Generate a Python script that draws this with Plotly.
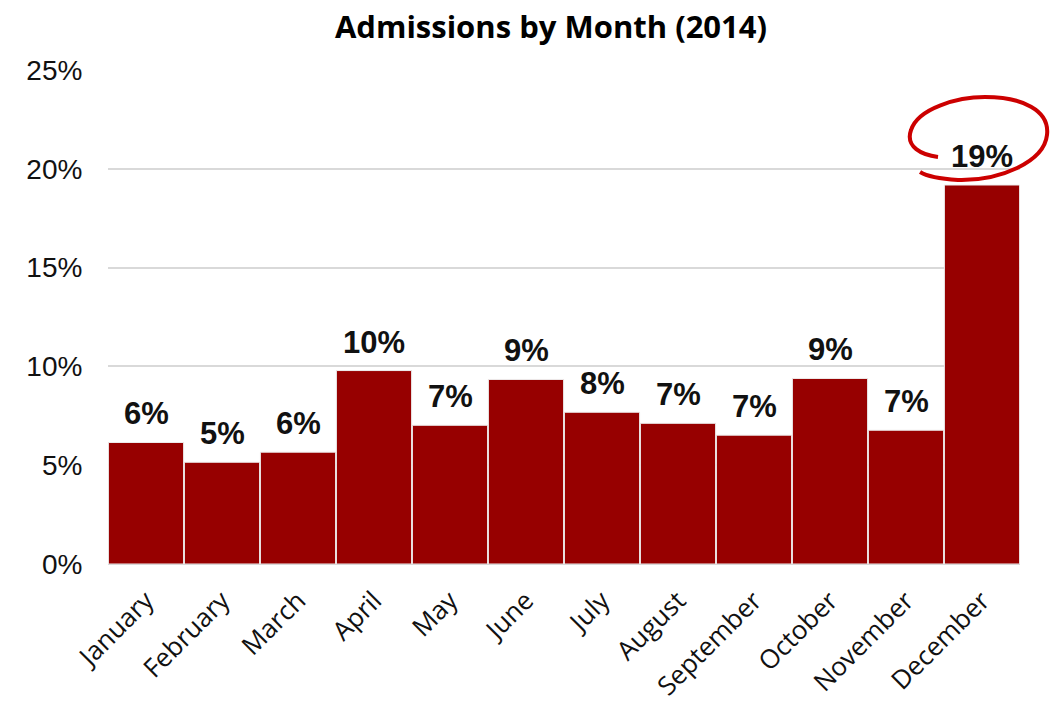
import plotly.graph_objects as go

months = ["January", "February", "March", "April", "May", "June", "July",
          "August", "September", "October", "November", "December"]
share = [0.0615, 0.0515, 0.0566, 0.0979, 0.0702, 0.0934, 0.0768,
         0.0712, 0.0652, 0.0939, 0.0677, 0.1918]
labels = ["6%", "5%", "6%", "10%", "7%", "9%", "8%", "7%", "7%", "9%", "7%", "19%"]
y_ticks = [0, 0.05, 0.10, 0.15, 0.20, 0.25]
y_tick_text = ["0%", "5%", "10%", "15%", "20%", "25%"]

# page has an 8px body margin; figure sized to fill the rest of the window
OFF = 8
W, H = 1050, 699
L, R, T, B = 100, 38, 62, 143
PW, PH = W - L - R, H - T - B

def px(x, y):
    """page pixel -> paper coords"""
    return (x - OFF - L) / PW, (H - B - (y - OFF)) / PH

fig = go.Figure(go.Bar(
    x=months, y=share,
    marker=dict(color="#970000", line=dict(color="#eeeeee", width=1)),
))

for m, v, t in zip(months, share, labels):
    fig.add_annotation(x=m, y=v, text=t, showarrow=False, yanchor="bottom",
                       yshift=9,
                       font=dict(family="Liberation Sans", size=31, color="#111111", weight="bold"))

# hand-drawn highlight ellipse around December label
pts = [("M", [(938, 157)]),
       ("C", [(922, 155), (905, 147), (911, 130)]),
       ("C", [(918, 108), (958, 97), (985, 97)]),
       ("C", [(1022, 97), (1050, 110), (1047, 135)]),
       ("C", [(1044, 162), (1000, 181), (958, 180)]),
       ("C", [(942, 179), (928, 177), (920, 172)])]
path = ""
for cmd, ps in pts:
    path += cmd + " " + ", ".join("%.4f %.4f" % px(a, b) for a, b in ps) + " "
fig.add_shape(type="path", path=path.strip(), xref="paper", yref="paper",
              line=dict(color="#cc0000", width=4))

# small cropped glyph at the bottom-right edge of the slide
tri = [(1051, 659), (1058, 667), (1058, 676), (1051, 676)]
tpath = "M " + " L ".join("%.4f %.4f" % px(a, b) for a, b in tri) + " Z"
fig.add_shape(type="path", path=tpath, xref="paper", yref="paper",
              fillcolor="#111111", line=dict(width=0))

fig.update_layout(
    width=W, height=H,
    margin=dict(l=L, r=R, t=T, b=B),
    plot_bgcolor="white", paper_bgcolor="white",
    bargap=0.01,
    showlegend=False,
    title=dict(text="<b>Admissions by Month (2014)</b>", x=(551 - OFF) / W, xanchor="center",
               y=0.988, yanchor="top",
               font=dict(family="Open Sans", size=31, color="#000000")),
    xaxis=dict(tickangle=-45, tickfont=dict(family="Open Sans", size=26, color="#111111"),
               showline=True, linecolor="#d9d9d9", linewidth=1, automargin=False,
               ticks="outside", ticklen=10, tickcolor="rgba(0,0,0,0)"),
    yaxis=dict(range=[0, 0.25], tickvals=y_ticks, ticktext=y_tick_text,
               tickfont=dict(family="Liberation Sans", size=28, color="#111111"),
               gridcolor="#d9d9d9", gridwidth=1.5, zeroline=False, automargin=False,
               ticks="outside", ticklen=19, tickcolor="rgba(0,0,0,0)"),
)

fig.write_html("out.html")
